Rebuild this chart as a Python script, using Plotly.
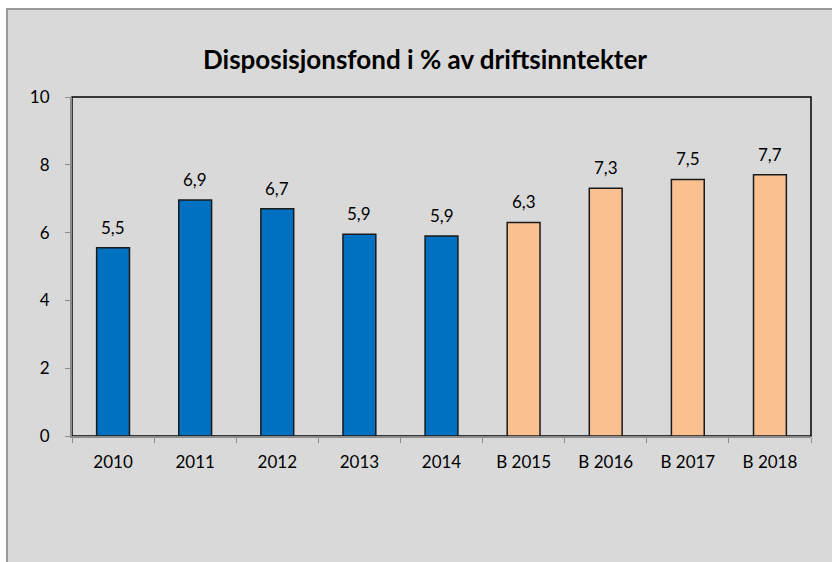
import plotly.graph_objects as go

categories = ["2010", "2011", "2012", "2013", "2014", "B 2015", "B 2016", "B 2017", "B 2018"]
values = [5.55, 6.96, 6.70, 5.95, 5.90, 6.30, 7.31, 7.57, 7.71]
labels = ["5,5", "6,9", "6,7", "5,9", "5,9", "6,3", "7,3", "7,5", "7,7"]
colors = ["#0070c0"] * 5 + ["#fac090"] * 4
y_ticks = [0, 2, 4, 6, 8, 10]

FONT = "Lato"
fig = go.Figure()
fig.add_trace(go.Bar(
    x=categories, y=values,
    marker=dict(color=colors, line=dict(color="#1a1a1a", width=1.5)),
    width=0.4, hoverinfo="skip",
))

for i, (v, t) in enumerate(zip(values, labels)):
    fig.add_annotation(x=i, y=v, text=t, showarrow=False, yanchor="bottom",
                       yshift=8, font=dict(family=FONT, size=17, color="#000"))

W, H = 832, 562
L, R, T, B = 72, 21, 97, 126
pw, ph = W - L - R, H - T - B
def px(x): return (x - L) / pw
def py(y): return (H - B - y) / ph

# outer chart area
fig.add_shape(type="rect", xref="paper", yref="paper", layer="below",
              x0=px(7), x1=px(840), y0=py(9), y1=py(570),
              fillcolor="#d9d9d9", line=dict(color="#9a9a9a", width=2))
# plot area border (top/right black)
fig.add_shape(type="rect", xref="paper", yref="paper", layer="below",
              x0=0, x1=1, y0=0, y1=1, line=dict(color="#000", width=1.5))

fig.update_layout(
    width=W, height=H,
    margin=dict(l=L, r=R, t=T, b=B, pad=0, autoexpand=False),
    paper_bgcolor="white", plot_bgcolor="rgba(0,0,0,0)",
    showlegend=False,
    title=dict(text="<b>Disposisjonsfond i % av driftsinntekter</b>",
               x=425 / W, xanchor="center", xref="container",
               y=1 - 60 / H, yanchor="middle", yref="container",
               font=dict(family=FONT, size=26, color="#000")),
    font=dict(family=FONT, size=17, color="#000"),
    xaxis=dict(type="category", range=[-0.5, len(categories) - 0.5],
               showline=True, linecolor="#8c8c8c", linewidth=2,
               ticks="outside", ticklen=5, tickcolor="#8c8c8c", tickwidth=1,
               tickson="boundaries", showgrid=False, ticklabelstandoff=10,
               tickangle=0, automargin=False,
               tickfont=dict(family=FONT, size=17)),
    yaxis=dict(range=[0, 10], tickvals=y_ticks, showline=True, linecolor="#8c8c8c",
               linewidth=2, ticks="outside", ticklen=5, tickcolor="#8c8c8c",
               showgrid=False, zeroline=False, ticklabelstandoff=12,
               automargin=False,
               tickfont=dict(family=FONT, size=17)),
)
fig.write_html("out.html", config={"displayModeBar": False},
               post_script="document.body.style.margin='0';")
